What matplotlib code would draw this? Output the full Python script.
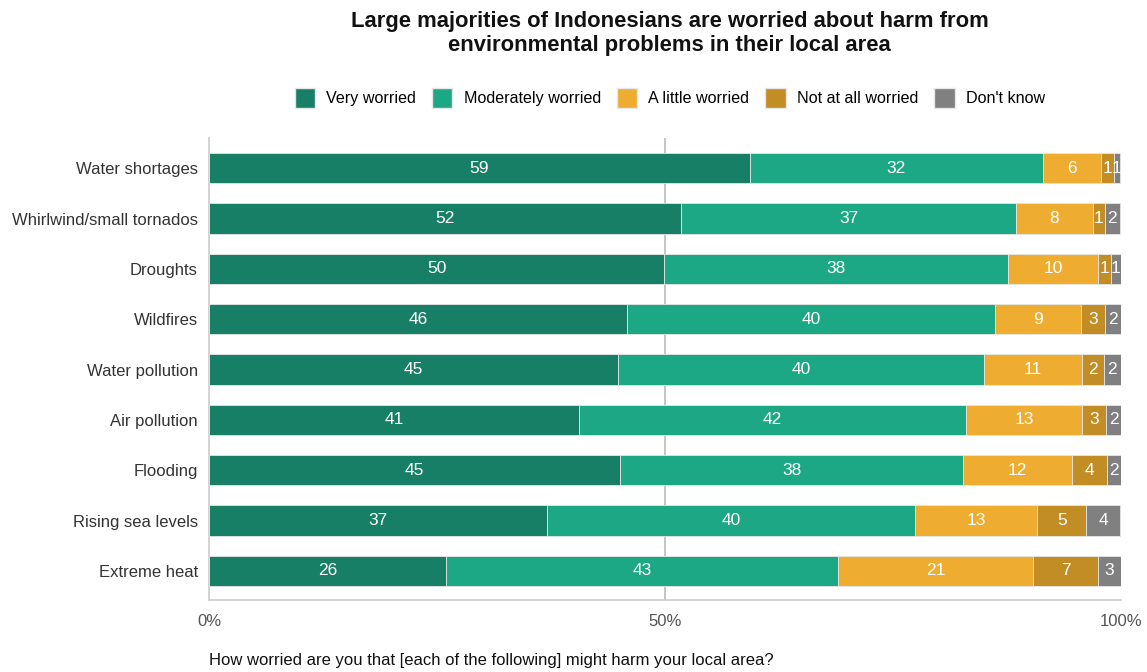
import matplotlib
matplotlib.use("Agg")
import matplotlib.pyplot as plt
from matplotlib.patches import Patch

plt.rcParams['font.family'] = ['Liberation Sans', 'DejaVu Sans']

categories = ["Water shortages", "Whirlwind/small tornados", "Droughts", "Wildfires",
              "Water pollution", "Air pollution", "Flooding", "Rising sea levels", "Extreme heat"]
series_names = ["Very worried", "Moderately worried", "A little worried",
                "Not at all worried", "Don't know"]
very = [59.3, 51.8, 49.9, 45.8, 44.8, 40.6, 45.1, 37.1, 26.0]
moderately = [32.1, 36.7, 37.7, 40.4, 40.2, 42.4, 37.6, 40.3, 43.0]
little = [6.4, 8.4, 9.9, 9.4, 10.7, 12.7, 11.9, 13.4, 21.4]
not_at_all = [1.4, 1.3, 1.4, 2.6, 2.4, 2.7, 3.9, 5.4, 7.1]
dont_know = [0.7, 1.7, 1.1, 1.8, 1.9, 1.6, 1.5, 3.7, 2.5]
series = [very, moderately, little, not_at_all, dont_know]
colors = ["#177F66", "#1CA885", "#EEAD30", "#C38D25", "#808080"]
xticks = [0, 50, 100]
xtick_labels = ["0%", "50%", "100%"]

fig = plt.figure(figsize=(11.47, 6.72), dpi=100)
ax = fig.add_axes([0.1822, 0.1071, 0.7951, 0.6875])

ypos = list(range(len(categories)))
left = [0.0] * len(categories)
for vals, col in zip(series, colors):
    ax.barh(ypos, vals, left=left, height=0.6, color=col,
            edgecolor="#e6e6e6", linewidth=0.6, zorder=3)
    for y, v, l in zip(ypos, vals, left):
        ax.text(l + v / 2, y, str(int(v + 0.5)), ha="center", va="center",
                color="white", fontsize=12.5, zorder=4)
    left = [a + b for a, b in zip(left, vals)]

ax.set_xlim(0, 100)
ax.set_ylim(8.58, -0.6)
ax.set_yticks(ypos)
ax.set_yticklabels(categories, fontsize=12, color="#333333")
ax.set_xticks(xticks)
ax.set_xticklabels(xtick_labels, fontsize=12, color="#555555")
ax.tick_params(axis="both", length=0)
ax.tick_params(axis="x", pad=10)
ax.tick_params(axis="y", pad=8)
ax.axvline(50, color="#bbbbbb", linewidth=1.2, zorder=1)
for s in ["top", "right"]:
    ax.spines[s].set_visible(False)
for s in ["left", "bottom"]:
    ax.spines[s].set_color("#cccccc")
    ax.spines[s].set_linewidth(1.2)

fig.text(0.584, 1 - 22 / 672, "Large majorities of Indonesians are worried about harm from",
         ha="center", va="center", fontsize=15.8, fontweight="bold", color="#111111")
fig.text(0.584, 1 - 45 / 672, "environmental problems in their local area",
         ha="center", va="center", fontsize=15.8, fontweight="bold", color="#111111")

handles = [Patch(facecolor=c, edgecolor="#e6e6e6", label=n) for c, n in zip(colors, series_names)]
fig.legend(handles=handles, loc="center", bbox_to_anchor=(0.584, 0.854), ncol=5, frameon=False,
           fontsize=11.6, handlelength=1.25, handleheight=1.6, handletextpad=0.7, columnspacing=1.0)

fig.text(0.1822, 11 / 672, "How worried are you that [each of the following] might harm your local area?",
         ha="left", va="center", fontsize=12, color="#111111")

fig.savefig("out.png", dpi=100)
